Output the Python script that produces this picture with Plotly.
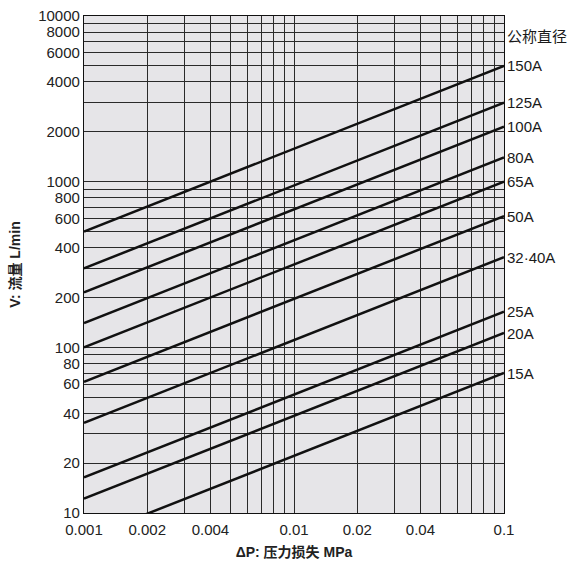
import math
import plotly.graph_objects as go

# Data
sizes = ["150A", "125A", "100A", "80A", "65A", "50A", "32·40A", "25A", "20A", "15A"]
dp_ends = [0.001, 0.1]                       # MPa
flow_at_min = [500, 300, 215, 140, 100, 62, 35, 16.4, 12.2, 7.0]   # L/min at 0.001 MPa
flow_at_max = [5000, 3000, 2150, 1400, 1000, 620, 350, 164, 122, 70]  # L/min at 0.1 MPa

x_tickvals = [0.001, 0.002, 0.004, 0.01, 0.02, 0.04, 0.1]
x_ticktext = ["0.001", "0.002", "0.004", "0.01", "0.02", "0.04", "0.1"]
y_tickvals = [10, 20, 40, 60, 80, 100, 200, 400, 600, 800, 1000, 2000, 4000, 6000, 8000, 10000]
y_ticktext = [str(v) for v in y_tickvals]
x_grid = [m * 10 ** e for e in (-3, -2) for m in range(1, 10)] + [0.1]
y_grid = [m * 10 ** e for e in (1, 2, 3) for m in range(1, 10)] + [10000]

legend_title = "公称直径"
legend_title_y = 7500

FONT = "Liberation Sans, Arial, Noto Sans CJK SC, sans-serif"

fig = go.Figure()
for name, v0, v1 in zip(sizes, flow_at_min, flow_at_max):
    fig.add_trace(go.Scatter(x=dp_ends, y=[v0, v1], mode="lines",
                             line=dict(color="#111111", width=2.5),
                             name=name, showlegend=False, hoverinfo="skip"))

annotations = []
for name, v1 in zip(sizes, flow_at_max):
    annotations.append(dict(x=math.log10(dp_ends[1]), y=math.log10(v1), xref="x", yref="y",
                            text=name, showarrow=False, xanchor="left", yanchor="middle",
                            xshift=1, font=dict(size=15, color="#1a1a1a", family=FONT)))
annotations.append(dict(x=math.log10(dp_ends[1]), y=math.log10(legend_title_y), xref="x", yref="y",
                        text=legend_title, showarrow=False, xanchor="left", yanchor="middle",
                        xshift=1, font=dict(size=15, color="#1a1a1a", family=FONT)))
fig.update_layout(annotations=annotations)

grid_color = "#2a2a2a"
fig.update_xaxes(type="log", range=[-3, -1], tickvals=x_tickvals, ticktext=x_ticktext,
                 showgrid=True, gridcolor=grid_color, gridwidth=1,
                 minor=dict(tickvals=x_grid, showgrid=True, gridcolor=grid_color, gridwidth=1, ticks=""),
                 showline=True, linecolor="#111111", linewidth=1.2, mirror=True,
                 ticks="", zeroline=False, ticklabelstandoff=3, automargin=False,
                 tickfont=dict(size=15, color="#222222", family=FONT),
                 title=dict(text="<b>ΔP: 压力损失 MPa</b>", font=dict(size=14, color="#222222", family=FONT),
                            standoff=10))
fig.update_yaxes(type="log", range=[1, 4], tickvals=y_tickvals, ticktext=y_ticktext,
                 showgrid=True, gridcolor=grid_color, gridwidth=1,
                 minor=dict(tickvals=y_grid, showgrid=True, gridcolor=grid_color, gridwidth=1, ticks=""),
                 showline=True, linecolor="#111111", linewidth=1.2, mirror=True,
                 ticks="", zeroline=False, automargin=False,
                 tickfont=dict(size=15, color="#222222", family=FONT),
                 title=dict(text="<b>V: 流量 L/min</b>", font=dict(size=14, color="#222222", family=FONT),
                            standoff=14))

fig.update_layout(width=573, height=562,
                  margin=dict(l=84, r=69, t=16, b=49),
                  paper_bgcolor="white", plot_bgcolor="#e6e5e8",
                  showlegend=False)

fig.write_html("out.html")
